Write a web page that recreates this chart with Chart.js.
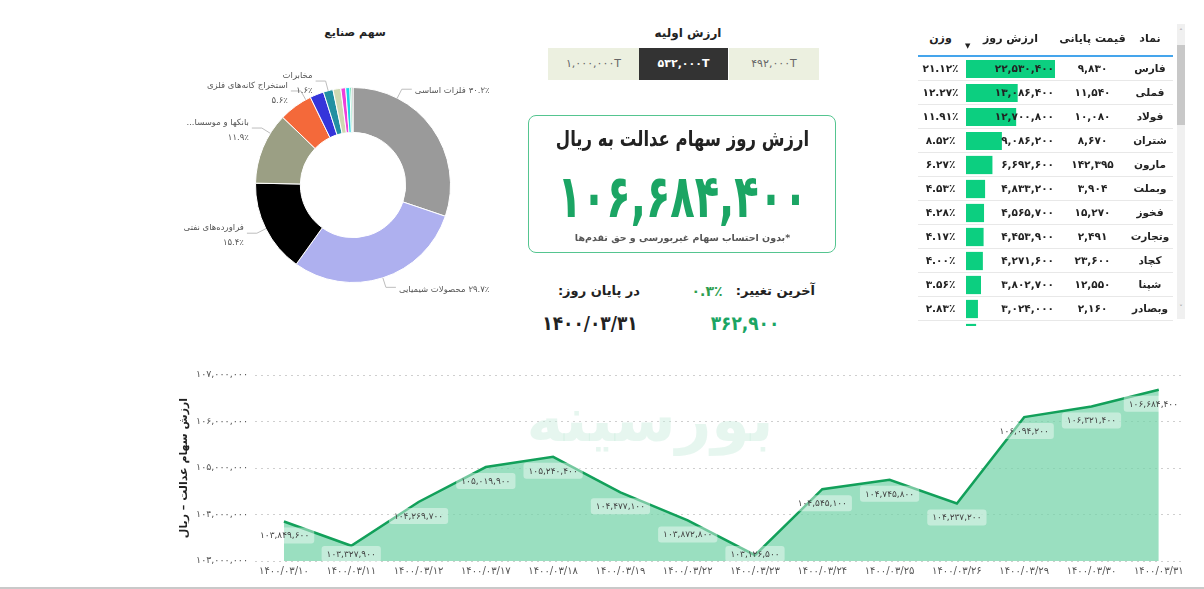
<!DOCTYPE html>
<html lang="fa">
<head>
<meta charset="utf-8">
<script src="https://cdn.jsdelivr.net/npm/chart.js@4/dist/chart.umd.min.js"></script>
<style>
  html,body{margin:0;padding:0;background:#fff;}
  body{width:1204px;height:589px;position:relative;overflow:hidden;font-family:"DejaVu Sans",sans-serif;color:#222;}
  .abs{position:absolute;}
  .ctr{text-align:center;white-space:nowrap;}
  .btn{position:absolute;top:48px;height:32px;line-height:32px;text-align:center;font-size:11px;color:#666;background:#ECF0E0;direction:ltr;}
  .btn.on{background:#333;color:#fff;font-weight:bold;}
  #tbl{position:absolute;left:918px;top:25px;width:255px;height:301px;overflow:hidden;}
  .hdr{position:absolute;left:0;top:0;width:255px;height:30px;border-bottom:2px solid #45A5EC;font-weight:bold;font-size:11px;}
  .row{position:absolute;left:0;width:255px;height:24px;box-sizing:border-box;border-bottom:1px solid #E8E8E8;font-weight:bold;font-size:10.5px;}
  .cell{position:absolute;top:0;height:23px;line-height:23px;white-space:nowrap;z-index:2;}
  #barsWrap{position:absolute;left:48px;top:32px;width:89px;height:288px;z-index:1;}
</style>
</head>
<body>
<!-- Donut -->
<div class="abs ctr" style="left:255px;top:25px;width:200px;font-size:11px;font-weight:bold;line-height:16px;" dir="rtl">سهم صنایع</div>
<div class="abs" style="left:170px;top:60px;width:366px;height:250px;"><canvas id="donut"></canvas></div>

<!-- Middle panel -->
<div class="abs ctr" style="left:588px;top:25px;width:200px;font-size:12px;font-weight:bold;line-height:16px;" dir="rtl">ارزش اولیه</div>
<div id="btns"></div>
<div class="abs" style="left:528px;top:115px;width:306px;height:136px;border:1.5px solid #55C590;border-radius:8px;"></div>
<div class="abs ctr" style="left:528px;top:127px;width:309px;font-size:16.5px;font-weight:bold;line-height:24px;transform:scaleY(1.3);" dir="rtl">ارزش روز سهام عدالت به ریال</div>
<div id="bigNum" class="abs ctr" style="left:528px;top:176px;width:309px;font-size:40px;font-weight:bold;line-height:40px;color:#1BA564;transform:scaleY(1.5);direction:ltr;"></div>
<div class="abs ctr" style="left:528px;top:231px;width:309px;font-size:9.5px;font-weight:bold;color:#555;line-height:14px;" dir="rtl">*بدون احتساب سهام غیربورسی و حق تقدم‌ها</div>

<div class="abs" style="left:715px;top:282px;width:100px;text-align:right;font-size:13px;font-weight:bold;line-height:18px;white-space:nowrap;" dir="rtl">آخرین تغییر:</div>
<div id="chg" class="abs ctr" style="left:677px;top:282px;width:60px;font-size:14px;font-weight:bold;line-height:18px;color:#2E9E50;direction:ltr;"></div>
<div class="abs" style="left:540px;top:282px;width:100px;text-align:right;font-size:13px;font-weight:bold;line-height:18px;white-space:nowrap;" dir="rtl">در پایان روز:</div>
<div id="lastDiff" class="abs ctr" style="left:695px;top:312px;width:100px;font-size:17px;font-weight:bold;line-height:22px;color:#1BA564;direction:ltr;transform:scaleY(1.15);"></div>
<div id="lastDate" class="abs ctr" style="left:530px;top:312px;width:120px;font-size:17px;font-weight:bold;line-height:22px;color:#222;direction:ltr;transform:scaleY(1.15);"></div>

<!-- Table -->
<div id="tbl">
  <div class="hdr" dir="rtl">
    <div class="cell ctr" style="left:0;width:45px;line-height:28px;">وزن</div>
    <div class="cell ctr" style="left:45px;width:95px;line-height:28px;">ارزش روز</div>
    <div class="cell" style="left:47px;top:17px;font-size:7px;line-height:8px;">▼</div>
    <div class="cell ctr" style="left:140px;width:69px;line-height:28px;">قیمت پایانی</div>
    <div class="cell ctr" style="left:209px;width:46px;line-height:28px;">نماد</div>
  </div>
  <div id="rows"></div>
  <div id="barsWrap"><canvas id="bars"></canvas></div>
</div>
<!-- fake scrollbar -->
<div class="abs" style="left:1177px;top:24px;width:8px;height:295px;background:#F0F0F0;"></div>
<div class="abs" style="left:1177px;top:45px;width:8px;height:80px;background:#C8C8C8;"></div>
<div class="abs ctr" style="left:1177px;top:28px;width:8px;font-size:7px;color:#888;line-height:8px;">˄</div>
<div class="abs ctr" style="left:1177px;top:304px;width:8px;font-size:7px;color:#888;line-height:8px;">˅</div>

<!-- Line chart -->
<div class="abs" style="left:170px;top:355px;width:1030px;height:232px;"><canvas id="line"></canvas></div>
<div class="abs" style="left:0;top:587px;width:1204px;height:2px;background:#C9C9C9;"></div>

<script>
// ---------------- DATA ----------------
const industryNames = ['فلزات اساسی','محصولات شیمیایی','فراورده‌های نفتی','بانکها و موسسات اعتباری','استخراج کانه‌های فلزی','خودرو و ساخت قطعات','مخابرات','سیمان، آهک و گچ','بیمه و صندوق بازنشستگی','حمل و نقل','کاشی و سرامیک','سایر'];
const industryShares = [30.2, 29.7, 15.4, 11.9, 5.6, 2.3, 1.6, 1.3, 0.8, 0.7, 0.3, 0.2];
const industryColors = ['#9A9A9A','#AEB0EF','#000000','#9B9F84','#F4693A','#3535DA','#2190A2','#CFD8B2','#EE40DA','#1BD4E6','#22CF8C','#8A8A8A'];

const initialValues = [1000000, 532000, 492000];
const selectedInitial = 532000;

const todayValue = 106684400;
const lastChangePct = 0.3;
const lastChangeValue = 362900;
const lastDateLabel = '1400/03/31';

const symbols = ['فارس','فملی','فولاد','شتران','مارون','وبملت','فخوز','وتجارت','کچاد','شپنا','وبصادر','شبندر'];
const closePrices = [9830, 11540, 10080, 8670, 142395, 3904, 15270, 2491, 23600, 12550, 2160, 5020];
const dayValues = [22530400, 13086400, 12700800, 9086200, 6692600, 4833200, 4565700, 4453900, 4271600, 3802700, 3024000, 2560000];
const weights = [21.12, 12.27, 11.91, 8.52, 6.27, 4.53, 4.28, 4.17, 4.00, 3.56, 2.83, 2.40];

const dates = ['1400/03/10','1400/03/11','1400/03/12','1400/03/17','1400/03/18','1400/03/19','1400/03/22','1400/03/23','1400/03/24','1400/03/25','1400/03/26','1400/03/29','1400/03/30','1400/03/31'];
const fundValues = [103849600, 103327900, 104269700, 105019900, 105240400, 104477100, 103872800, 103126500, 104545100, 104745800, 104237200, 106094200, 106321400, 106684400];
const yTickMin = 103000000, yTickMax = 107000000, yTickStep = 1000000;

// ---------------- HELPERS ----------------
const fa = s => String(s).replace(/[0-9]/g, d => '۰۱۲۳۴۵۶۷۸۹'[d]);
const fmt = n => fa(Number(n).toLocaleString('en-US'));
Chart.defaults.font.family = '"DejaVu Sans", sans-serif';

// ---------------- MIDDLE PANEL ----------------
(function(){
  const lefts = [548, 639, 729], widths = [91, 89, 90];
  const box = document.getElementById('btns');
  initialValues.forEach((v, i) => {
    const d = document.createElement('div');
    d.className = 'btn' + (v === selectedInitial ? ' on' : '');
    d.style.left = lefts[i] + 'px'; d.style.width = widths[i] + 'px';
    d.textContent = fmt(v) + 'T';
    box.appendChild(d);
  });
  document.getElementById('bigNum').textContent = fmt(todayValue);
  document.getElementById('chg').textContent = fa(lastChangePct.toFixed(1)) + '٪';
  document.getElementById('lastDiff').textContent = fmt(lastChangeValue);
  document.getElementById('lastDate').textContent = fa(lastDateLabel);
})();

// ---------------- TABLE ----------------
(function(){
  const rows = document.getElementById('rows');
  symbols.forEach((s, i) => {
    const r = document.createElement('div');
    r.className = 'row';
    r.style.top = (32 + i * 24) + 'px';
    r.innerHTML =
      '<div class="cell ctr" style="left:0;width:45px;direction:ltr;">' + fa(weights[i].toFixed(2)) + '٪</div>' +
      '<div class="cell" style="left:45px;width:91px;text-align:right;direction:ltr;">' + fmt(dayValues[i]) + '</div>' +
      '<div class="cell ctr" style="left:140px;width:69px;direction:ltr;">' + fmt(closePrices[i]) + '</div>' +
      '<div class="cell ctr" style="left:209px;width:46px;" dir="rtl">' + s + '</div>';
    rows.appendChild(r);
  });
  new Chart(document.getElementById('bars'), {
    type: 'bar',
    data: { labels: symbols, datasets: [{ data: dayValues, backgroundColor: '#0CCF80', barPercentage: 0.76, categoryPercentage: 1 }] },
    options: {
      indexAxis: 'y', responsive: true, maintainAspectRatio: false, animation: false,
      layout: { padding: 0 },
      scales: { x: { display: false, min: 0, max: Math.max(...dayValues) }, y: { display: false } },
      plugins: { legend: { display: false }, tooltip: { enabled: false } }
    }
  });
})();

// ---------------- DONUT ----------------
const donutLabels = {
  id: 'donutLabels',
  afterDraw(chart, args, opts) {
    const ctx = chart.ctx;
    const meta = chart.getDatasetMeta(0);
    ctx.save();
    ctx.font = '8.5px "DejaVu Sans"';
    ctx.strokeStyle = '#BDBDBD';
    ctx.lineWidth = 1;
    ctx.fillStyle = '#555';
    ctx.textBaseline = 'middle';
    opts.show.forEach(i => {
      const arc = meta.data[i];
      const p = arc.getProps(['x','y','startAngle','endAngle','outerRadius'], true);
      const ang = (opts.angle[i] !== undefined) ? (opts.angle[i] - 90) * Math.PI / 180 : (p.startAngle + p.endAngle) / 2;
      const ax = p.x + Math.cos(ang) * p.outerRadius, ay = p.y + Math.sin(ang) * p.outerRadius;
      const ex = p.x + Math.cos(ang) * (p.outerRadius + 10), ey = p.y + Math.sin(ang) * (p.outerRadius + 10);
      const right = Math.cos(ang) >= 0;
      const hx = ex + (right ? 10 : -10);
      ctx.beginPath(); ctx.moveTo(ax, ay); ctx.lineTo(ex, ey); ctx.lineTo(hx, ey); ctx.stroke();
      let name = chart.data.labels[i];
      const pct = fa(chart.data.datasets[0].data[i].toFixed(1)) + '٪';
      ctx.direction = 'rtl';
      const maxW = opts.maxW[i];
      if (maxW && ctx.measureText(name).width > maxW) {
        while (ctx.measureText(name + '...').width > maxW && name.length > 1) name = name.slice(0, -1);
        name = name.trim() + '...';
      }
      if (right) {
        ctx.direction = 'rtl';
        ctx.textAlign = 'left';
        const nw = ctx.measureText(name).width;
        ctx.fillText(name, hx + 3, ey + 2);
        ctx.direction = 'ltr';
        ctx.fillText(pct, hx + 3 + nw + 3, ey + 2);
      } else {
        ctx.textAlign = 'right';
        ctx.fillText(name, hx - 3, ey - 5);
        ctx.direction = 'ltr';
        ctx.textAlign = 'right';
        ctx.fillText(pct, hx - 3, ey + 10);
      }
    });
    ctx.restore();
  }
};
new Chart(document.getElementById('donut'), {
  type: 'doughnut',
  data: { labels: industryNames, datasets: [{ data: industryShares, backgroundColor: industryColors, borderWidth: 1, borderColor: '#fff' }] },
  options: {
    responsive: true, maintainAspectRatio: false, animation: false, cutout: '54%',
    layout: { padding: { left: 85, right: 85, top: 27, bottom: 27 } },
    plugins: { legend: { display: false }, tooltip: { enabled: false },
      donutLabels: { show: [0, 1, 2, 3, 4, 6], angle: { 0: 27, 3: 302, 4: 331 }, maxW: { 3: 70 } } }
  },
  plugins: [donutLabels]
});

// ---------------- LINE ----------------
const watermark = {
  id: 'watermark',
  beforeDatasetsDraw(chart) {
    const ctx = chart.ctx;
    ctx.save();
    ctx.font = 'bold 62px "DejaVu Sans"';
    ctx.direction = 'rtl';
    ctx.textAlign = 'center';
    ctx.textBaseline = 'middle';
    ctx.fillStyle = 'rgba(200,236,220,0.45)';
    ctx.fillText('بورسینه', 650 - 170, 425 - 355);
    ctx.restore();
  }
};
const pointLabels = {
  id: 'pointLabels',
  afterDatasetsDraw(chart) {
    const ctx = chart.ctx, a = chart.chartArea;
    const meta = chart.getDatasetMeta(0);
    ctx.save();
    ctx.font = '9px "DejaVu Sans"';
    ctx.textAlign = 'center';
    ctx.textBaseline = 'middle';
    meta.data.forEach((pt, i) => {
      const txt = fmt(fundValues[i]);
      const w = ctx.measureText(txt).width + 10, h = 16;
      let cx = Math.min(Math.max(pt.x, a.left + w / 2), a.right - w / 2);
      let cy = Math.min(pt.y + 14, a.bottom - h / 2 + 1);
      ctx.fillStyle = 'rgba(255,255,255,0.42)';
      ctx.beginPath();
      ctx.roundRect(cx - w / 2, cy - h / 2, w, h, 3);
      ctx.fill();
      ctx.fillStyle = '#444';
      ctx.fillText(txt, cx, cy + 0.5);
    });
    ctx.restore();
  }
};
new Chart(document.getElementById('line'), {
  type: 'line',
  data: { datasets: [{
    data: fundValues.map((v, i) => ({ x: i, y: v })),
    borderColor: '#12A05A', borderWidth: 2.5, backgroundColor: 'rgba(115,210,168,0.72)',
    fill: 'start', pointRadius: 0, tension: 0
  }] },
  options: {
    responsive: true, maintainAspectRatio: false, animation: false,
    layout: { padding: { top: 20, right: 17, left: 0, bottom: 0 } },
    plugins: { legend: { display: false }, tooltip: { enabled: false } },
    scales: {
      x: {
        type: 'linear', min: -0.43, max: dates.length - 1 + 0.36,
        grid: { display: false, drawTicks: false }, border: { display: false },
        afterBuildTicks: s => { s.ticks = dates.map((d, i) => ({ value: i })); },
        ticks: { autoSkip: false, maxRotation: 0, color: '#555', font: { size: 10 }, padding: 4,
          callback: v => fa(dates[v]) },
        afterFit: s => { s.height = 26; }
      },
      y: {
        min: yTickMin, max: yTickMax,
        ticks: { stepSize: yTickStep, color: '#555', font: { size: 9.5 }, padding: 7, callback: v => fmt(v) },
        grid: { color: '#CFCFCF', drawTicks: false, lineWidth: 1 },
        border: { display: false, dash: [2, 4] },
        title: { display: true, text: 'ارزش سهام عدالت – ریال', color: '#222', font: { size: 11, weight: 'bold' }, padding: { top: 8, bottom: 0 } },
        afterFit: s => { s.width = 85; }
      }
    }
  },
  plugins: [watermark, pointLabels]
});
</script>
</body>
</html>
